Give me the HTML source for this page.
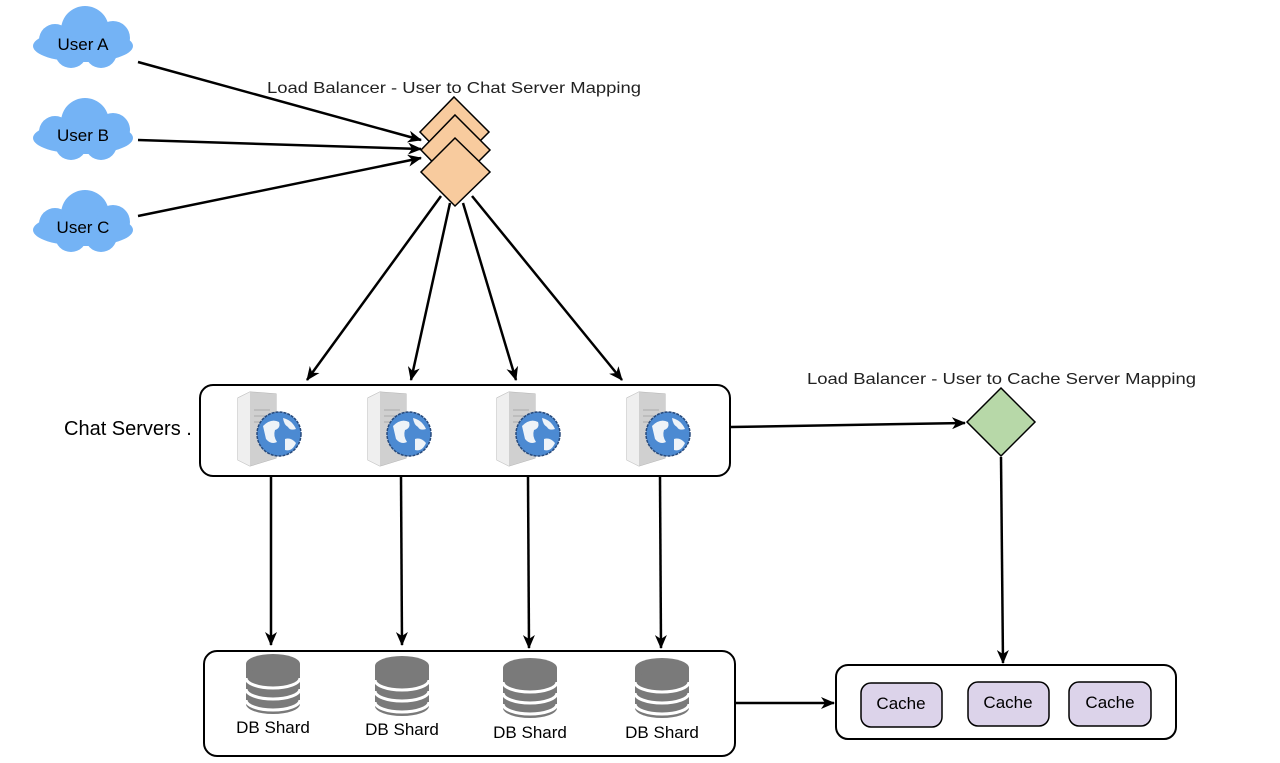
<!DOCTYPE html>
<html><head><meta charset="utf-8"><style>
html,body{margin:0;padding:0;background:#fff;}
svg{display:block;font-family:"Liberation Sans",sans-serif;}
</style></head><body>
<svg width="1280" height="763" viewBox="0 0 1280 763" xmlns="http://www.w3.org/2000/svg">
<defs>
<marker id="ar" markerWidth="14" markerHeight="12" refX="13" refY="6" orient="auto" markerUnits="userSpaceOnUse">
<path d="M0,0 L14,6 L0,12 L4,6 z" fill="#000"/></marker>
<g id="cloud">
<ellipse cx="0" cy="6" rx="50" ry="16" fill="#74b3f5"/>
<circle cx="-28" cy="0" r="16" fill="#74b3f5"/>
<circle cx="2" cy="-10" r="24" fill="#74b3f5"/>
<circle cx="30" cy="-2" r="17" fill="#74b3f5"/>
<circle cx="-12" cy="12" r="16" fill="#74b3f5"/>
<circle cx="18" cy="12" r="16" fill="#74b3f5"/>
</g>
<g id="srv">
<path d="M2,8 L14,2 L40,4 L40,68 L14,76 L2,70 z" fill="#dcdcdc" stroke="#b5b5b5"/>
<path d="M14,2 L40,4 L40,68 L14,76 z" fill="#d0d0d0"/>
<path d="M2,8 L14,2 L14,76 L2,70 z" fill="#efefef"/>
<g stroke="#aaa" stroke-width="1"><line x1="18" y1="20" x2="34" y2="20"/><line x1="18" y1="26" x2="34" y2="26"/><line x1="18" y1="32" x2="34" y2="32"/></g>
<circle cx="43" cy="44" r="22" fill="#4c8ad2" stroke="#274a7c" stroke-width="1.5" stroke-dasharray="3 1"/>
<path d="M27,36 q8,-8 16,-4 q2,6 -4,8 q-2,6 2,12 q-6,3 -11,-3 z M47,28 q9,2 13,11 q-6,2 -8,-2 q-4,-2 -5,-9z M49,49 q6,-2 11,4 q-4,9 -11,7 z" fill="#eef3f8"/>
</g>
<g id="db">
<path d="M-27,-20 L-27,20 A27,10 0 0 0 27,20 L27,-20 z" fill="#7a7a7a"/>
<ellipse cx="0" cy="-20" rx="27" ry="10" fill="#7a7a7a"/>
<path d="M-27,-6 A27,10 0 0 0 27,-6 M-27,5 A27,10 0 0 0 27,5 M-27,16 A27,10 0 0 0 27,16" fill="none" stroke="#fff" stroke-width="3"/>
</g>
</defs>

<use href="#cloud" x="83" y="40"/>
<use href="#cloud" x="83" y="132"/>
<use href="#cloud" x="83" y="224"/>
<g font-size="17" fill="#000" text-anchor="middle">
<text x="83" y="50">User A</text>
<text x="83" y="141">User B</text>
<text x="83" y="233">User C</text>
</g>

<text x="267" y="93" font-size="16" fill="#222" textLength="374" lengthAdjust="spacingAndGlyphs">Load Balancer - User to Chat Server Mapping</text>

<g stroke="#000" stroke-width="2.5" fill="none" marker-end="url(#ar)">
<line x1="138" y1="62" x2="421" y2="140"/>
<line x1="138" y1="140" x2="421" y2="149"/>
<line x1="138" y1="216" x2="421" y2="158"/>
</g>

<g stroke="#000" stroke-width="1.5" fill="#f8cb9e">
<polygon points="454,97 489,132 454,167 420,132"/>
<polygon points="455,115 490,150 455,185 421,150"/>
<polygon points="455,138 490,172 455,206 421,172"/>
</g>

<g stroke="#000" stroke-width="2.5" fill="none" marker-end="url(#ar)">
<line x1="441" y1="196" x2="307" y2="380"/>
<line x1="450" y1="203" x2="411" y2="380"/>
<line x1="463" y1="203" x2="516" y2="380"/>
<line x1="472" y1="196" x2="622" y2="380"/>
</g>

<text x="64" y="435" font-size="20" fill="#000">Chat Servers .</text>
<rect x="200" y="385" width="530" height="91" rx="13" fill="#fff" stroke="#000" stroke-width="2"/>
<use href="#srv" x="236" y="390"/>
<use href="#srv" x="366" y="390"/>
<use href="#srv" x="495" y="390"/>
<use href="#srv" x="625" y="390"/>

<text x="807" y="384" font-size="16" fill="#222" textLength="389" lengthAdjust="spacingAndGlyphs">Load Balancer - User to Cache Server Mapping</text>
<line x1="731" y1="427" x2="965" y2="423" stroke="#000" stroke-width="2.5" marker-end="url(#ar)"/>
<polygon points="1001,388 1035,422 1001,456 967,422" fill="#b7d8a8" stroke="#000" stroke-width="1.5"/>
<line x1="1001" y1="457" x2="1003" y2="663" stroke="#000" stroke-width="2.5" marker-end="url(#ar)"/>

<g stroke="#000" stroke-width="2.5" marker-end="url(#ar)">
<line x1="271" y1="477" x2="271" y2="645"/>
<line x1="401" y1="477" x2="402" y2="645"/>
<line x1="528" y1="477" x2="529" y2="648"/>
<line x1="660" y1="477" x2="661" y2="648"/>
</g>

<rect x="204" y="651" width="531" height="105" rx="13" fill="#fff" stroke="#000" stroke-width="2"/>
<use href="#db" x="273" y="684"/>
<use href="#db" x="402" y="686"/>
<use href="#db" x="530" y="688"/>
<use href="#db" x="662" y="688"/>
<g font-size="17" fill="#000" text-anchor="middle">
<text x="273" y="733">DB Shard</text>
<text x="402" y="735">DB Shard</text>
<text x="530" y="738">DB Shard</text>
<text x="662" y="738">DB Shard</text>
</g>

<line x1="736" y1="703" x2="834" y2="703" stroke="#000" stroke-width="2.5" marker-end="url(#ar)"/>
<rect x="836" y="665" width="340" height="74" rx="12" fill="#fff" stroke="#000" stroke-width="2"/>
<g fill="#dcd3ea" stroke="#000" stroke-width="1.5">
<rect x="861" y="683" width="81" height="44" rx="10"/>
<rect x="968" y="682" width="81" height="44" rx="10"/>
<rect x="1069" y="682" width="82" height="44" rx="10"/>
</g>
<g font-size="17" fill="#000" text-anchor="middle">
<text x="901" y="709">Cache</text>
<text x="1008" y="708">Cache</text>
<text x="1110" y="708">Cache</text>
</g>
</svg>
</body></html>
